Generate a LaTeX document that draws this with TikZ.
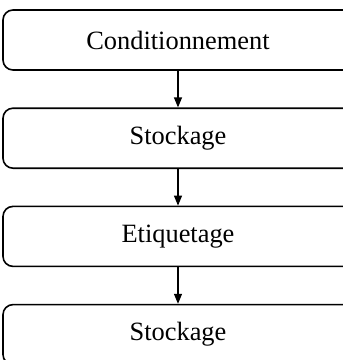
\documentclass[tikz,border=0pt]{standalone}
\usepackage{fontspec}
\setmainfont{Liberation Serif}
\usetikzlibrary{arrows.meta, positioning}

\begin{document}
\begin{tikzpicture}[
    node distance=18.3pt,
    etape/.style={rectangle, draw, line width=0.8pt, rounded corners=5pt, minimum width=175pt, minimum height=30pt, text centered, font=\fontsize{13.2}{15}\selectfont},
    arrow/.style={-{Triangle[length=5pt, width=4pt]}, line width=0.6pt}
]
    \useasboundingbox (0,0) rectangle (171.5pt,-180pt);

    \node[etape] (cond) at (89pt,-20pt) {Conditionnement};
    \node[etape, below=of cond] (stock1) {Stockage};
    \node[etape, below=of stock1] (etiq) {Etiquetage};
    \node[etape, below=of etiq] (stock2) {Stockage};

    \draw[arrow] (cond) -- (stock1);
    \draw[arrow] (stock1) -- (etiq);
    \draw[arrow] (etiq) -- (stock2);

\end{tikzpicture}
\end{document}
